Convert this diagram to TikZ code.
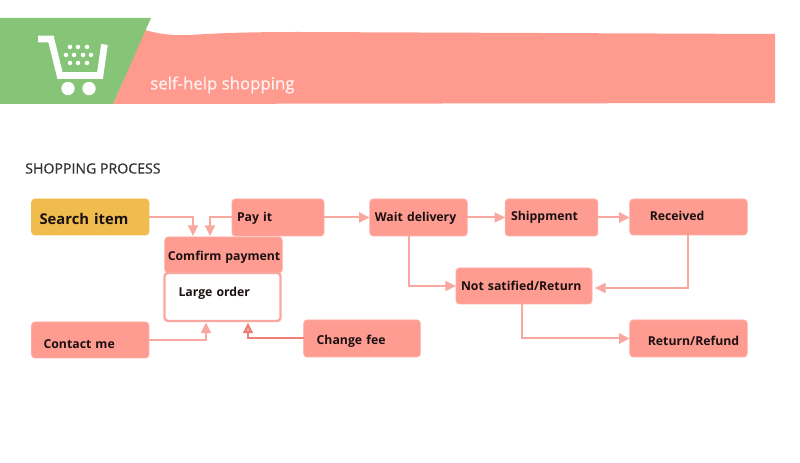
\documentclass[tikz,border=0pt]{standalone}
\usepackage{fontspec}
\setmainfont{Open Sans}
\usetikzlibrary{arrows.meta}
\definecolor{salmon}{HTML}{FF9C92}
\definecolor{banner}{HTML}{FF9A8E}
\definecolor{leaf}{HTML}{86C478}
\definecolor{amber}{HTML}{F0BC4E}
\definecolor{wire}{HTML}{F8A89E}
\definecolor{wiredark}{HTML}{EE8076}
\definecolor{ink}{HTML}{1A1010}
\newlength{\pxu}\setlength{\pxu}{0.75pt}
\newcommand{\lbl}[3]{\strut\hspace*{#1\pxu}\smash{\raisebox{\dimexpr#2\pxu-2.6\pxu\relax}{#3}}}
\tikzset{
  x=0.75pt,y=-0.75pt,
  stepbox/.style={rectangle,rounded corners=2.6pt,fill=salmon,draw=salmon!85!white,line width=0.6pt,inner sep=0pt,outer sep=0pt,
    font=\bfseries\fontsize{9.2pt}{11pt}\selectfont,text=ink,align=left},
  plainbox/.style={stepbox,fill=white,draw=wire,line width=1.8pt},
  goldbox/.style={stepbox,fill=amber,draw=amber,font=\bfseries\fontsize{11.1pt}{13pt}\selectfont},
  flow/.style={draw=wire,line width=1.5pt,-{Triangle[length=8pt,width=7.5pt,fill=wire]}},
  flowdark/.style={flow,draw=wiredark},
  bannertext/.style={inner sep=0pt,text=white!85!banner,font=\fontsize{12.6pt}{14pt}\selectfont\addfontfeature{FakeBold=1}},
  titletext/.style={inner sep=0pt,text=black!80,font=\fontsize{10.6pt}{12pt}\selectfont\addfontfeature{FakeBold=0.6}},
  cartline/.style={draw=white,line width=5pt,line join=miter},
  cartdot/.style={circle,fill=white,draw=none,inner sep=0pt,minimum size=3.4pt},
  cartwheel/.style={circle,fill=white,draw=none,inner sep=0pt,minimum size=10pt},
}
\begin{document}
\begin{tikzpicture}
\useasboundingbox (0,0) rectangle (800,463);
\fill[white] (0,0) rectangle (800,463);
% banner
\fill[banner] (113,104) -- (145,30) .. controls (155,33) and (170,36) .. (190,35) .. controls (220,33) and (250,32) .. (300,32) -- (775,34) -- (775,103) -- cycle;
\fill[leaf] (0,18) -- (151,18) -- (113,104) -- (0,104) -- cycle;
\draw[cartline] (38,39) -- (51,39) -- (60,75.5) -- (100,75.5) -- (104.5,44.5);
\node[cartwheel] (w1) at (68,88.5) {};
\node[cartwheel] (w2) at (89,88.5) {};
\foreach \i/\x/\y in {a/70/47,b/78/47,c/87/47,d/66/55,e/74/55,f/83/55,g/91/55,h/70/63,i/78/63,j/87/63}
  \node[cartdot] (dot\i) at (\x,\y) {};
\node[bannertext,anchor=west] (tagline) at (150,85) {self-help shopping};
\node[titletext,anchor=west] (title) at (25,168.5) {SHOPPING PROCESS};
% boxes
\node[goldbox,minimum width=88pt,text width=88pt,minimum height=27pt] (search) at (90.25,217) {\lbl{8}{-1}{Search item}};
\node[stepbox,minimum width=69pt,text width=69pt,minimum height=27.75pt] (pay) at (278,217.5) {\lbl{5}{2}{Pay it}};
\node[stepbox,minimum width=88pt,text width=88pt,minimum height=27pt] (confirm) at (223.5,255) {\lbl{3}{0}{Comfirm payment}};
\node[plainbox,minimum width=87pt,text width=87pt,minimum height=36pt] (large) at (222.5,297) {\lbl{14}{6}{Large order}};
\node[stepbox,minimum width=88pt,text width=88pt,minimum height=27pt] (contact) at (90.25,340) {\lbl{12}{-3}{Contact me}};
\node[stepbox,minimum width=87.5pt,text width=87.5pt,minimum height=27.75pt] (fee) at (362,338.5) {\lbl{13}{0}{Change fee}};
\node[stepbox,minimum width=73pt,text width=73pt,minimum height=27.75pt] (wait) at (418.5,217.5) {\lbl{5}{2}{Wait delivery}};
\node[stepbox,minimum width=69.5pt,text width=69.5pt,minimum height=27.75pt] (ship) at (551.5,217.5) {\lbl{6}{3}{Shippment}};
\node[stepbox,minimum width=88pt,text width=88pt,minimum height=27pt] (recv) at (688.5,217) {\lbl{20}{2.5}{Received}};
\node[stepbox,minimum width=102pt,text width=102pt,minimum height=27pt] (notsat) at (524,286) {\lbl{5}{1}{Not satified/Return}};
\node[stepbox,minimum width=88pt,text width=88pt,minimum height=27.75pt] (refund) at (688.5,338.5) {\lbl{18}{-1}{Return/Refund}};
% connector ends
\coordinate (c1) at (193,236);
\coordinate (c2) at (210,236);
\coordinate (c3) at (206,322.5);
\coordinate (c4) at (248,322.5);
\coordinate (c5) at (409,236);
\coordinate (c6) at (522,304);
\coordinate (c7) at (688,235);
\coordinate (c8) at (595,288);
% connectors
\draw[flow] (search.east) -| (c1);
\draw[flow] (pay.west) -| (c2);
\draw[flow] (pay.east) -- (wait.west);
\draw[flow] (wait.east) -- (ship.west);
\draw[flow] (ship.east) -- (recv.west |- ship.east);
\draw[flow] (c5) |- (notsat.west);
\draw[flow] (c7) |- (c8);
\draw[flow] (c6) |- (refund.west);
\draw[flow] (contact.east) -| (c3);
\draw[flowdark] (fee.west) -| (c4);
\end{tikzpicture}
\end{document}
